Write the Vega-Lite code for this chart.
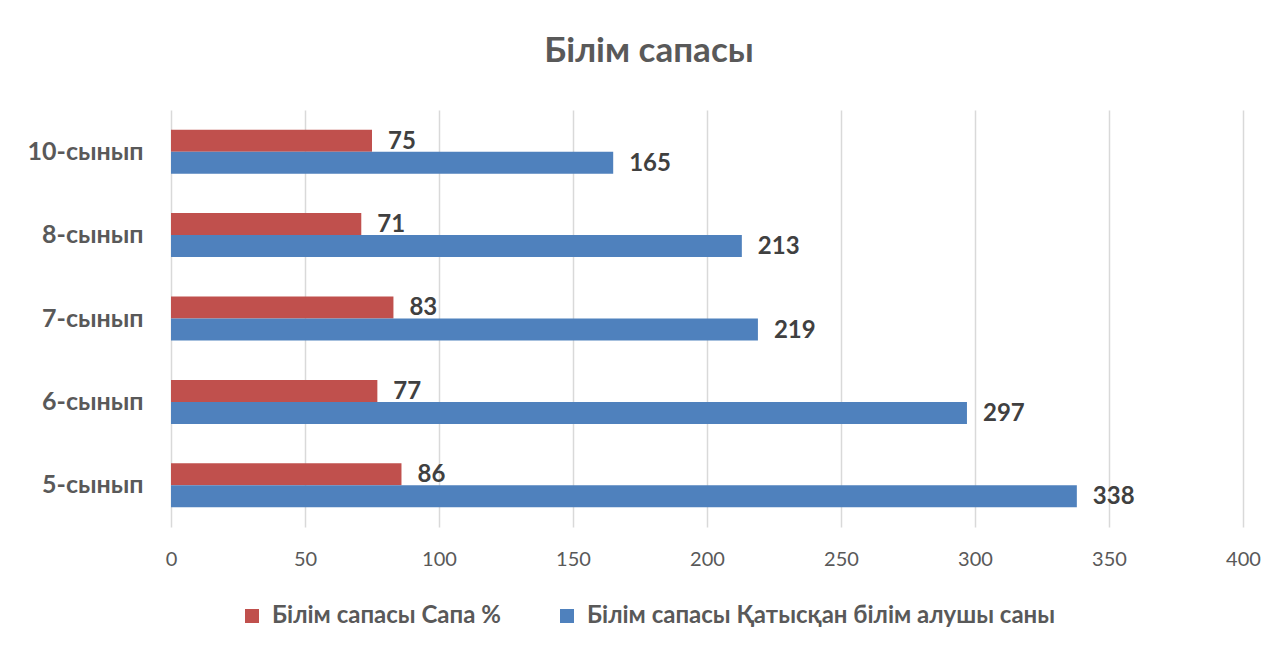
{
  "$schema": "https://vega.github.io/schema/vega-lite/v6.json",
  "autosize": {"type": "none"},
  "width": 1072,
  "height": 417,
  "padding": {"left": 171, "top": 110, "right": 43, "bottom": 121},
  "background": "white",
  "title": {
    "text": "Білім сапасы",
    "font": "Lato",
    "fontSize": 35,
    "fontWeight": "bold",
    "color": "#595959",
    "anchor": "middle",
    "baseline": "alphabetic",
    "offset": 44,
    "dx": -58,
    "dy": 31
  },
  "data": {
    "values": [
      {"class": "10-сынып", "series": "Білім сапасы Сапа %", "value": 75},
      {"class": "10-сынып", "series": "Білім сапасы Қатысқан білім алушы саны", "value": 165},
      {"class": "8-сынып", "series": "Білім сапасы Сапа %", "value": 71},
      {"class": "8-сынып", "series": "Білім сапасы Қатысқан білім алушы саны", "value": 213},
      {"class": "7-сынып", "series": "Білім сапасы Сапа %", "value": 83},
      {"class": "7-сынып", "series": "Білім сапасы Қатысқан білім алушы саны", "value": 219},
      {"class": "6-сынып", "series": "Білім сапасы Сапа %", "value": 77},
      {"class": "6-сынып", "series": "Білім сапасы Қатысқан білім алушы саны", "value": 297},
      {"class": "5-сынып", "series": "Білім сапасы Сапа %", "value": 86},
      {"class": "5-сынып", "series": "Білім сапасы Қатысқан білім алушы саны", "value": 338}
    ]
  },
  "encoding": {
    "y": {
      "field": "class",
      "type": "nominal",
      "sort": ["10-сынып", "8-сынып", "7-сынып", "6-сынып", "5-сынып"],
      "scale": {"paddingInner": 0.472, "paddingOuter": 0.236},
      "axis": {
        "title": null,
        "domain": false,
        "ticks": false,
        "grid": false,
        "labelFont": "Lato",
        "labelFontSize": 25,
        "labelFontWeight": "bold",
        "labelColor": "#595959",
        "labelPadding": 28
      }
    },
    "yOffset": {
      "field": "series",
      "type": "nominal",
      "sort": ["Білім сапасы Сапа %", "Білім сапасы Қатысқан білім алушы саны"],
      "scale": {"paddingInner": 0, "paddingOuter": 0}
    },
    "x": {
      "field": "value",
      "type": "quantitative",
      "scale": {"domain": [0, 400], "nice": false},
      "axis": {
        "title": null,
        "values": [0, 50, 100, 150, 200, 250, 300, 350, 400],
        "domain": false,
        "ticks": false,
        "grid": true,
        "gridColor": "#d9d9d9",
        "gridWidth": 1.5,
        "labelFlush": false,
        "labelFont": "Lato",
        "labelFontSize": 20,
        "labelColor": "#595959",
        "labelPadding": 22
      }
    }
  },
  "layer": [
    {
      "mark": {"type": "bar"},
      "encoding": {
        "color": {
          "field": "series",
          "type": "nominal",
          "sort": ["Білім сапасы Сапа %", "Білім сапасы Қатысқан білім алушы саны"],
          "scale": {"range": ["#C0504D", "#4F81BD"]},
          "legend": {
            "title": null,
            "orient": "none",
            "direction": "horizontal",
            "legendX": 69,
            "legendY": 494,
            "padding": 0,
            "symbolType": "square",
            "symbolSize": 196,
            "symbolStrokeWidth": 0,
            "symbolOpacity": 1,
            "labelFont": "Lato",
            "labelFontSize": 24,
            "labelFontWeight": "bold",
            "labelColor": "#595959",
            "labelOffset": 8,
            "columnPadding": 54,
            "labelLimit": 0
          }
        }
      }
    },
    {
      "mark": {
        "type": "text",
        "align": "left",
        "baseline": "middle",
        "dx": 16,
        "dy": 1,
        "font": "Lato",
        "fontSize": 24,
        "fontWeight": "bold",
        "color": "#404040"
      },
      "encoding": {
        "text": {"field": "value", "type": "quantitative"}
      }
    }
  ],
  "config": {
    "view": {"stroke": null}
  }
}
